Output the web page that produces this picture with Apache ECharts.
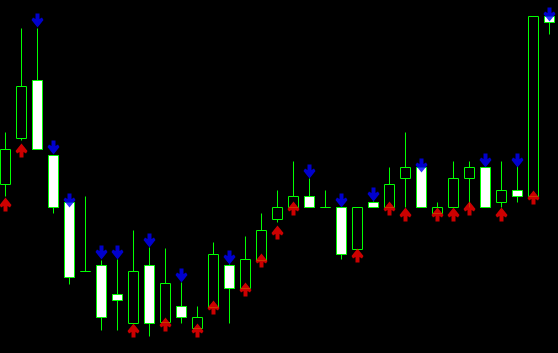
<!DOCTYPE html>
<html>
<head>
<meta charset="utf-8">
<script src="https://cdn.jsdelivr.net/npm/echarts@6/dist/echarts.min.js"></script>
<style>
html,body{margin:0;padding:0;background:#000;}
#chart{width:558px;height:353px;}
</style>
</head>
<body>
<div id="chart"></div>
<script>
// Price levels (arbitrary chart units, higher = up)
var categories = ['1','2','3','4','5','6','7','8','9','10','11','12','13','14','15','16','17','18','19','20','21','22','23','24','25','26','27','28','29','30','31','32','33','34','35'];
var opens  = [169,215,273,198,151, 82, 88, 59, 30, 88, 31, 47, 25, 46, 88, 65, 93,134,146,157,146,146,104,151,146,175,186,140,146,175,186,151,163,157,337];
var closes = [204,267,204,146, 76, 82, 36, 53, 82, 30, 70, 36, 36, 99, 65, 94,123,146,157,146,146, 99,146,146,169,186,146,146,175,186,146,163,157,337,331];
var lows   = [157,213,204,140, 69, 82, 23, 23, 30, 17, 31, 30, 25, 46, 30, 65, 93,131,146,146,146, 94,104,146,146,146,146,140,146,146,146,146,151,157,319];
var highs  = [221,325,325,198,151,157, 93, 94,123,106,105, 71, 47,111, 89,117,140,163,192,175,163,146,146,152,186,221,186,151,192,192,186,192,187,337,337];
// Arrow tip levels (null = no arrow)
var downArrows = [null,null,326,199,146,null,94,94,null,106,null,71,null,null,89,null,null,null,null,175,null,146,null,152,null,null,181,null,null,null,186,null,186,null,332];
var upArrows   = [156,210,null,null,null,null,null,null,30,null,36,null,30,53,null,71,100,128,152,null,null,null,105,null,152,146,null,146,146,152,null,146,null,163,null];

var candleData = categories.map(function(c, i){ return [opens[i], closes[i], lows[i], highs[i]]; });
var downData = downArrows.map(function(v, i){ return [i, v]; });
var upData = upArrows.map(function(v, i){ return [i, v]; });

var downPath = 'path://M4 0 L8 0 L8 5.5 L10.5 4 L12 6.5 L6 14 L0 6.5 L1.5 4 L4 5.5 Z';
var upPath = 'path://M4 14 L8 14 L8 8.5 L10.5 10 L12 7.5 L6 0 L0 7.5 L1.5 10 L4 8.5 Z';

var chart = echarts.init(document.getElementById('chart'), null, {renderer:'canvas'});
chart.setOption({
  backgroundColor: '#000000',
  animation: false,
  grid: {left: -2.5, top: 0, width: 560, height: 353, outerBoundsMode: 'none', containLabel: false},
  xAxis: {
    type: 'category', data: categories, boundaryGap: true,
    axisLine: {show:false}, axisTick: {show:false}, axisLabel: {show:false}, splitLine: {show:false}
  },
  yAxis: {
    type: 'value', min: 0.5, max: 353.5, scale: false,
    axisLine: {show:false}, axisTick: {show:false}, axisLabel: {show:false}, splitLine: {show:false}
  },
  series: [
    {
      type: 'candlestick',
      data: candleData,
      barWidth: 10,
      silent: true,
      itemStyle: {
        color: '#000000', color0: '#FFFFFF',
        borderColor: '#00FF00', borderColor0: '#00FF00',
        borderColorDoji: '#00FF00',
        borderWidth: 1
      },
      z: 2
    },
    {
      type: 'scatter',
      data: downData,
      symbol: downPath,
      symbolSize: [12, 14],
      symbolOffset: [0, -7],
      itemStyle: {color: '#0000FF'},
      silent: true,
      z: 5
    },
    {
      type: 'scatter',
      data: upData,
      symbol: upPath,
      symbolSize: [12, 14],
      symbolOffset: [0, 7],
      itemStyle: {color: '#FF0000'},
      silent: true,
      z: 5
    }
  ]
});
</script>
</body>
</html>
